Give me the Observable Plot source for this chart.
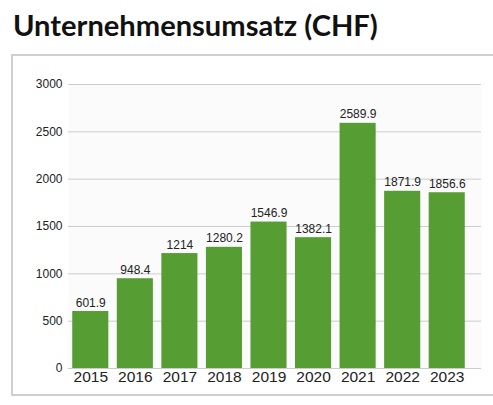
<!DOCTYPE html>
<html>
<head>
<meta charset="utf-8">
<script src="https://cdn.jsdelivr.net/npm/d3@7"></script>
<script src="https://cdn.jsdelivr.net/npm/@observablehq/plot@0.6"></script>
<style>
  html, body { margin: 0; padding: 0; background: #fff; width: 493px; height: 405px; overflow: hidden; }
  #title { position: absolute; left: 13px; top: 7px; font-family: Lato, "Open Sans", sans-serif; font-weight: 700; font-size: 29.1px; color: #111; white-space: nowrap; }
  #box { position: absolute; left: 11px; top: 54px; width: 490px; height: 338px; border-top: 2px solid #cfcfcf; border-left: 2px solid #cfcfcf; border-bottom: 2px solid #cfcfcf; }
  #chart { position: absolute; left: 1px; top: 0px; }
</style>
</head>
<body>
<div id="title">Unternehmensumsatz (CHF)</div>
<div id="box"><div id="chart"></div></div>
<script>
const years = ["2015", "2016", "2017", "2018", "2019", "2020", "2021", "2022", "2023"];
const revenue = [601.9, 948.4, 1214, 1280.2, 1546.9, 1382.1, 2589.9, 1871.9, 1856.6];
const yTicks = [0, 500, 1000, 1500, 2000, 2500, 3000];

const data = years.map((year, i) => ({year, value: revenue[i]}));

const chart = Plot.plot({
  width: 479,
  height: 338,
  marginLeft: 54,
  marginRight: 12,
  marginTop: 28,
  marginBottom: 26,
  style: {fontFamily: "'Liberation Sans', Arial, sans-serif", background: "transparent", color: "#222"},
  x: {domain: years, range: [54, 455], round: false, paddingInner: 0.19, paddingOuter: 0.095, label: null},
  y: {domain: [0, 3000], label: null},
  marks: [
    Plot.frame({fill: "#fbfbfb", stroke: null}),
    Plot.ruleY(yTicks, {stroke: "#cccccc", strokeWidth: 1}),
    Plot.barY(data, {x: "year", y: "value", fill: "#569d34"}),
    Plot.text(data, {x: "year", y: "value", text: d => String(d.value), dy: -5, lineAnchor: "bottom", fontSize: 12, fill: "#222"}),
    Plot.axisY({ticks: yTicks, tickSize: 0, tickPadding: 6, fontSize: 12, label: null, tickFormat: d => String(d), fill: "#222"}),
    Plot.axisX({tickSize: 0, tickPadding: 2, fontSize: 15.5, label: null, fill: "#222"})
  ]
});
document.getElementById("chart").appendChild(chart);
</script>
</body>
</html>
